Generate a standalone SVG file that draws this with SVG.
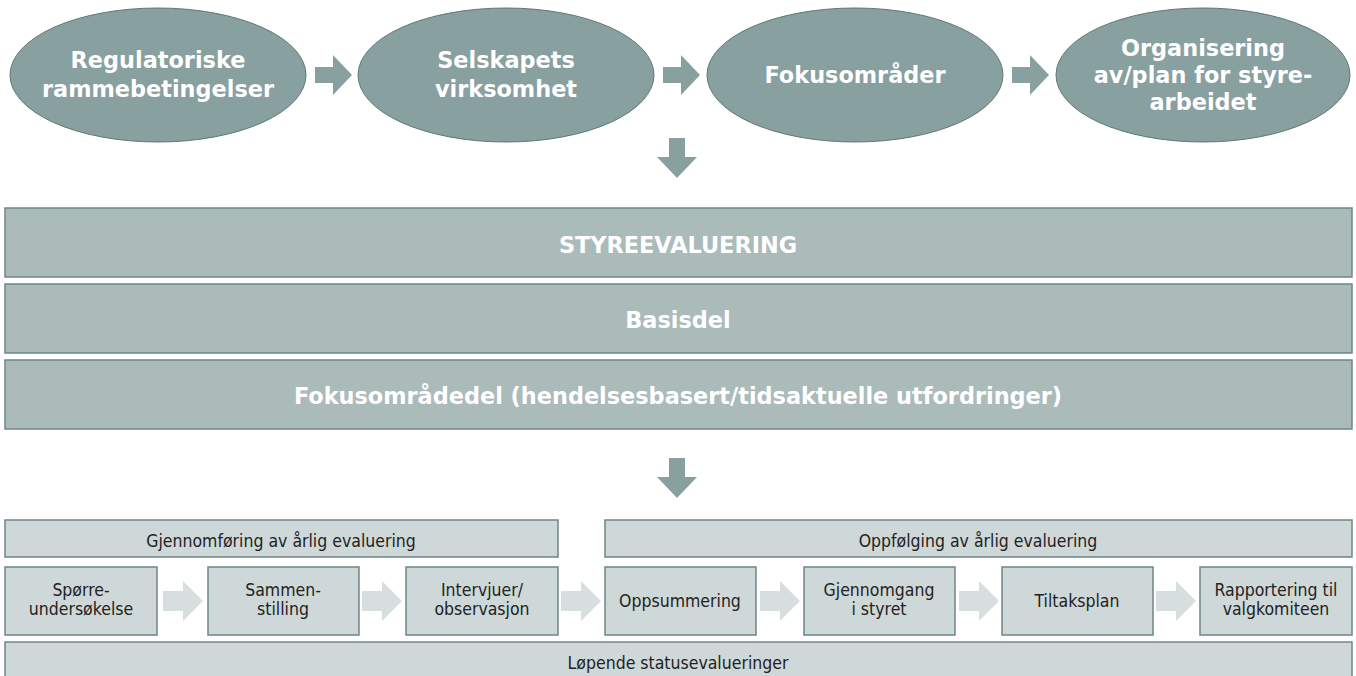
<svg xmlns="http://www.w3.org/2000/svg" width="1356" height="676" viewBox="0 0 1356 676">
<style>
.ell{fill:#88a09f;stroke:#5f7a78;stroke-width:1}
.band{fill:#aabbba;stroke:#6c8684;stroke-width:1.5}
.lbox{fill:#cfd8d8;stroke:#6c8684;stroke-width:1.5}
.bt{font-family:"DejaVu Sans",Verdana,sans-serif;font-weight:bold;font-size:22.4px;fill:#ffffff;text-anchor:middle}
.st{font-family:"DejaVu Sans Condensed","DejaVu Sans",sans-serif;font-stretch:condensed;font-size:17.5px;fill:#222222;text-anchor:middle}
.darr{fill:#88a09f}
.larr{fill:#d6dede}
</style>
<rect width="1356" height="676" fill="#ffffff"/>
<g id="connectors">
<path class="darr" d="M315,67 H333 V55 L352,75 L333,95 V83 H315 Z"/>
<path class="darr" d="M663,67 H681 V55 L700,75 L681,95 V83 H663 Z"/>
<path class="darr" d="M1012,67 H1030 V55 L1049,75 L1030,95 V83 H1012 Z"/>
<path class="darr" d="M669,138 H685 V157 H697 L677,178 L657,157 H669 Z"/>
<path class="darr" d="M669,458 H685 V477 H697 L677,498 L657,477 H669 Z"/>
<path class="larr" d="M163,591 H183 V581 L203,601 L183,621 V611 H163 Z"/>
<path class="larr" d="M362,591 H382 V581 L402,601 L382,621 V611 H362 Z"/>
<path class="larr" d="M561,591 H581 V581 L601,601 L581,621 V611 H561 Z"/>
<path class="larr" d="M760,591 H780 V581 L800,601 L780,621 V611 H760 Z"/>
<path class="larr" d="M959,591 H979 V581 L999,601 L979,621 V611 H959 Z"/>
<path class="larr" d="M1156,591 H1176 V581 L1196,601 L1176,621 V611 H1156 Z"/>
</g>
<g id="n1"><ellipse class="ell" cx="158" cy="75" rx="148" ry="67"/><text class="bt" x="158" y="68">Regulatoriske</text><text class="bt" x="158" y="97">rammebetingelser</text></g>
<g id="n2"><ellipse class="ell" cx="506" cy="75" rx="148" ry="67"/><text class="bt" x="506" y="68">Selskapets</text><text class="bt" x="506" y="97">virksomhet</text></g>
<g id="n3"><ellipse class="ell" cx="855" cy="75" rx="148" ry="67"/><text class="bt" x="855" y="83">Fokusområder</text></g>
<g id="n4"><ellipse class="ell" cx="1203" cy="75" rx="147" ry="67"/><text class="bt" x="1203" y="56">Organisering</text><text class="bt" x="1203" y="83">av/plan for styre-</text><text class="bt" x="1203" y="110">arbeidet</text></g>
<g id="b1"><rect class="band" x="5" y="208" width="1347" height="69"/><text class="bt" x="678" y="253">STYREEVALUERING</text></g>
<g id="b2"><rect class="band" x="5" y="284" width="1347" height="69"/><text class="bt" x="678" y="328">Basisdel</text></g>
<g id="b3"><rect class="band" x="5" y="360" width="1347" height="69"/><text class="bt" x="678" y="404">Fokusområdedel (hendelsesbasert/tidsaktuelle utfordringer)</text></g>
<g id="h1"><rect class="lbox" x="5" y="520" width="553" height="37"/><text class="st" x="281" y="547">Gjennomføring av årlig evaluering</text></g>
<g id="h2"><rect class="lbox" x="605" y="520" width="747" height="37"/><text class="st" x="978" y="547">Oppfølging av årlig evaluering</text></g>
<g id="s1"><rect class="lbox" x="5" y="567" width="152" height="68"/><text class="st" x="81" y="596">Spørre-</text><text class="st" x="81" y="615">undersøkelse</text></g>
<g id="s2"><rect class="lbox" x="208" y="567" width="151" height="68"/><text class="st" x="283" y="596">Sammen-</text><text class="st" x="283" y="615">stilling</text></g>
<g id="s3"><rect class="lbox" x="406" y="567" width="152" height="68"/><text class="st" x="482" y="596">Intervjuer/</text><text class="st" x="482" y="615">observasjon</text></g>
<g id="s4"><rect class="lbox" x="605" y="567" width="151" height="68"/><text class="st" x="680" y="607">Oppsummering</text></g>
<g id="s5"><rect class="lbox" x="804" y="567" width="151" height="68"/><text class="st" x="879" y="596">Gjennomgang</text><text class="st" x="879" y="615">i styret</text></g>
<g id="s6"><rect class="lbox" x="1002" y="567" width="151" height="68"/><text class="st" x="1077" y="607">Tiltaksplan</text></g>
<g id="s7"><rect class="lbox" x="1200" y="567" width="152" height="68"/><text class="st" x="1276" y="596">Rapportering til</text><text class="st" x="1276" y="615">valgkomiteen</text></g>
<g id="s8"><rect class="lbox" x="5" y="642" width="1347" height="40"/><text class="st" x="678" y="669">Løpende statusevalueringer</text></g>
</svg>
